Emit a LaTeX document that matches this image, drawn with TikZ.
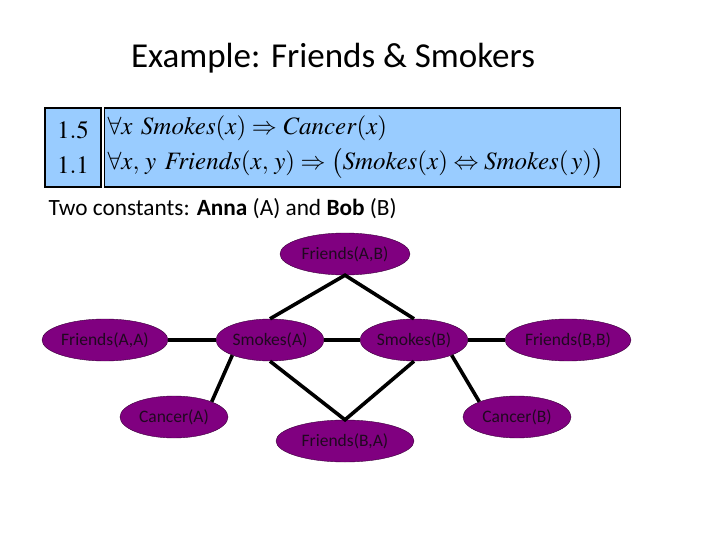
\documentclass[tikz,border=0pt]{standalone}
\usepackage{mathptmx}
\usepackage[no-math]{fontspec}
\setmainfont{Carlito}
\usepackage{tikz}
\usetikzlibrary{positioning, shapes.geometric}
\definecolor{atomfill}{HTML}{800080}
\definecolor{atomtext}{HTML}{200820}
\definecolor{atomedge}{HTML}{3A003A}
\definecolor{boxfill}{HTML}{99CCFF}
\newcommand{\pred}[1]{\mathit{#1}}

\begin{document}
\begin{tikzpicture}[
  x=1pt, y=-1pt,
  atom/.style={ellipse, draw=atomedge, fill=atomfill, text=atomtext,
    minimum height=42pt, minimum width=108pt, inner sep=0pt,
    font=\fontsize{17.5}{17.5}\selectfont},
  wide/.style={minimum width=130pt},
  cell/.style={draw, line width=1.2pt, fill=boxfill, minimum height=79pt,
    inner sep=3pt, font=\fontsize{25}{35}\selectfont},
  link/.style={line width=3.6pt, black}
]
\useasboundingbox (0,0) rectangle (720,540);

% Title and formulas
\node[font=\fontsize{35}{35}\selectfont] (title) at (333,58)
  {Example: Friends \& Smokers};
\node[cell, minimum width=56pt, align=center] (weights) at (73,147.5)
  {$1.5$\\$1.1$};
\node[cell, anchor=west, text width=510pt, align=left] (rules) at (104,147.5)
  {$\forall x\ \pred{Smokes}(x) \Rightarrow \pred{Cancer}(x)$\\
   $\forall x,\, y\ \pred{Friends}(x,\, y) \Rightarrow
    \bigl(\pred{Smokes}(x) \Leftrightarrow \pred{Smokes}(\,y)\bigr)$};
\node[anchor=west, font=\fontsize{23.3}{23.3}\selectfont] (consts) at (45,209)
  {Two constants: \textbf{Anna} (A) and \textbf{Bob} (B)};

% Ground atoms
\node[atom, wide] (fAB) at (345,254) {Friends(A,B)};
\node[atom, minimum width=126pt] (fAA) at (105,340) {Friends(A,A)};
\node[atom] (sA) at (270,340) {Smokes(A)};
\node[atom] (sB) at (414,340) {Smokes(B)};
\node[atom, minimum width=126pt] (fBB) at (568,340) {Friends(B,B)};
\node[atom] (cA) at (174,417) {Cancer(A)};
\node[atom] (cB) at (517,417) {Cancer(B)};
\node[atom, wide, minimum width=138pt] (fBA) at (345,441) {Friends(B,A)};

% Links
\draw[link] (fAA.east) -- (sA.west);
\draw[link] (sA.east) -- (sB.west);
\draw[link] (sB.east) -- (fBB.west);
\draw[link] (sA.north) -- (fAB.south) -- (sB.north);
\draw[link] (sA.south) -- (fBA.north) -- (sB.south);
\draw[link] (sA.202) -- (cA.22);
\draw[link] (sB.338) -- (cB.158);

\end{tikzpicture}
\end{document}
